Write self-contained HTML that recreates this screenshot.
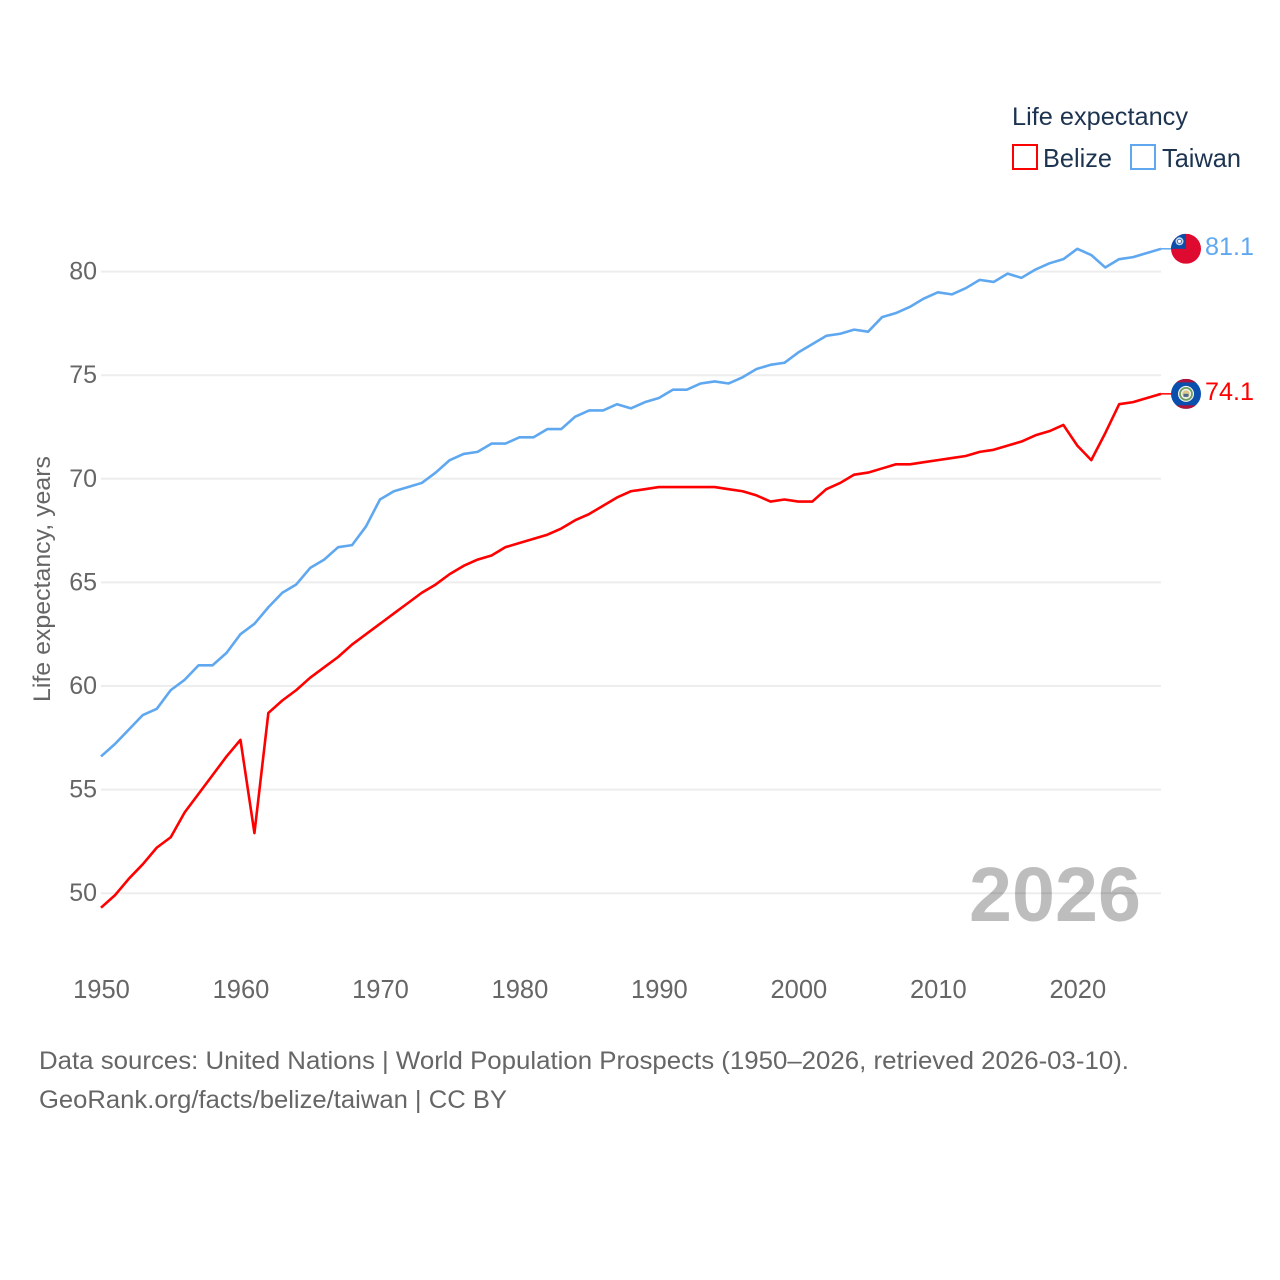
<!DOCTYPE html>
<html lang="en">
<head>
<meta charset="utf-8">
<title>Life expectancy: Belize and Taiwan</title>
<style>
html,body{margin:0;padding:0;background:#fff}
svg{display:block}
text{font-family:"Liberation Sans",sans-serif}
</style>
</head>
<body>
<svg id="chart" xmlns="http://www.w3.org/2000/svg" width="1280" height="1280" viewBox="0 0 1280 1280">
  <defs>
    <clipPath id="flag-clip"><circle cx="0" cy="0" r="15"></circle></clipPath>
  </defs>
  <rect x="0" y="0" width="1280" height="1280" fill="#ffffff"></rect>

  <g>
    <text x="1012" y="125" font-size="25" fill="#1d3450" textLength="176" lengthAdjust="spacingAndGlyphs">Life expectancy</text>
    <g>
      <rect x="1013" y="145" width="24" height="24" fill="none" stroke="#ff0000" stroke-width="2"></rect>
      <text x="1043" y="167" font-size="26" fill="#1d3450" textLength="69" lengthAdjust="spacingAndGlyphs">Belize</text>
    </g>
    <g>
      <rect x="1131" y="145" width="24" height="24" fill="none" stroke="#5fa8f0" stroke-width="2"></rect>
      <text x="1162" y="167" font-size="26" fill="#1d3450" textLength="79" lengthAdjust="spacingAndGlyphs">Taiwan</text>
    </g>
  </g>

  <g id="grid"></g>
  <g id="y-ticks"></g>
  <g id="x-ticks"></g>

  <text transform="translate(50,702) rotate(-90)" x="0" y="0" font-size="24" fill="#666666" textLength="246" lengthAdjust="spacingAndGlyphs">Life expectancy, years</text>

  <text id="year-label" x="969" y="921" font-size="77" font-weight="bold" fill="#000000" fill-opacity="0.26" textLength="172" lengthAdjust="spacingAndGlyphs">2026</text>

  <g id="series"></g>

  <g id="flag-belize">
    <g clip-path="url(#flag-clip)">
      <rect x="-15" y="-15" width="30" height="30" fill="#0a4fae"></rect>
      <rect x="-15" y="-15" width="30" height="3.5" fill="#b0123a"></rect>
      <rect x="-15" y="11.5" width="30" height="3.5" fill="#b0123a"></rect>
      <circle cx="0" cy="0" r="8" fill="#f4f4ee"></circle>
      <circle cx="0" cy="0" r="6" fill="none" stroke="#6d9e62" stroke-width="1.8"></circle>
      <circle cx="0" cy="0" r="3.6" fill="#d8c88a"></circle>
      <rect x="-2.5" y="0" width="5" height="3" fill="#4a6b8a"></rect>
    </g>
  </g>
  <g id="flag-taiwan">
    <g clip-path="url(#flag-clip)">
      <rect x="-15" y="-15" width="30" height="30" fill="#de0a30"></rect>
      <rect x="-15" y="-15" width="15" height="15" fill="#0b4ea8"></rect>
      <circle cx="-6.5" cy="-7.5" r="4" fill="#c9d8ee"></circle>
      <circle cx="-6.5" cy="-7.5" r="2.6" fill="#3f74bd"></circle>
      <circle cx="-6.5" cy="-7.5" r="1.6" fill="#ffffff"></circle>
    </g>
  </g>
  <text id="value-belize" font-size="25" fill="#ff0000" textLength="49" lengthAdjust="spacingAndGlyphs"></text>
  <text id="value-taiwan" font-size="25" fill="#5fa8f0" textLength="49" lengthAdjust="spacingAndGlyphs"></text>

  <g>
    <text x="39" y="1069" font-size="25" fill="#666666" textLength="1090" lengthAdjust="spacingAndGlyphs">Data sources: United Nations | World Population Prospects (1950–2026, retrieved 2026-03-10).</text>
    <text x="39" y="1108" font-size="25" fill="#666666" textLength="468" lengthAdjust="spacingAndGlyphs">GeoRank.org/facts/belize/taiwan | CC BY</text>
  </g>
</svg>
<script>
const startYear = 1950;
const yTickValues = [50, 55, 60, 65, 70, 75, 80];
const xTickValues = [1950, 1960, 1970, 1980, 1990, 2000, 2010, 2020];
const belizeValues = [
  49.3, 49.9, 50.7, 51.4, 52.2, 52.7, 53.9, 54.8, 55.7, 56.6,
  57.4, 52.9, 58.7, 59.3, 59.8, 60.4, 60.9, 61.4, 62.0, 62.5,
  63.0, 63.5, 64.0, 64.5, 64.9, 65.4, 65.8, 66.1, 66.3, 66.7,
  66.9, 67.1, 67.3, 67.6, 68.0, 68.3, 68.7, 69.1, 69.4, 69.5,
  69.6, 69.6, 69.6, 69.6, 69.6, 69.5, 69.4, 69.2, 68.9, 69.0,
  68.9, 68.9, 69.5, 69.8, 70.2, 70.3, 70.5, 70.7, 70.7, 70.8,
  70.9, 71.0, 71.1, 71.3, 71.4, 71.6, 71.8, 72.1, 72.3, 72.6,
  71.6, 70.9, 72.2, 73.6, 73.7, 73.9, 74.1
];
const taiwanValues = [
  56.6, 57.2, 57.9, 58.6, 58.9, 59.8, 60.3, 61.0, 61.0, 61.6,
  62.5, 63.0, 63.8, 64.5, 64.9, 65.7, 66.1, 66.7, 66.8, 67.7,
  69.0, 69.4, 69.6, 69.8, 70.3, 70.9, 71.2, 71.3, 71.7, 71.7,
  72.0, 72.0, 72.4, 72.4, 73.0, 73.3, 73.3, 73.6, 73.4, 73.7,
  73.9, 74.3, 74.3, 74.6, 74.7, 74.6, 74.9, 75.3, 75.5, 75.6,
  76.1, 76.5, 76.9, 77.0, 77.2, 77.1, 77.8, 78.0, 78.3, 78.7,
  79.0, 78.9, 79.2, 79.6, 79.5, 79.9, 79.7, 80.1, 80.4, 80.6,
  81.1, 80.8, 80.2, 80.6, 80.7, 80.9, 81.1
];

const SVG_NS = 'http://www.w3.org/2000/svg';
const plotLeft = 101;
const plotRight = 1161;
const endYear = startYear + belizeValues.length - 1;

function xScale(year) {
  return plotLeft + (year - startYear) * (plotRight - plotLeft) / (endYear - startYear);
}
function yScale(value) {
  return 893.2 - (value - 50) * 20.72;
}
function make(tag, attrs, parent) {
  const el = document.createElementNS(SVG_NS, tag);
  Object.keys(attrs).forEach(function (k) { el.setAttribute(k, attrs[k]); });
  parent.appendChild(el);
  return el;
}

const gridGroup = document.getElementById('grid');
const yTickGroup = document.getElementById('y-ticks');
yTickValues.forEach(function (v) {
  const line = make('line', {x1: plotLeft, x2: plotRight, y1: yScale(v), y2: yScale(v), stroke: '#ededed', 'stroke-width': 2}, gridGroup);
  
  
  const label = make('text', {x: 97, y: yScale(v) + 8, 'text-anchor': 'end', 'font-size': 25, fill: '#666666'}, yTickGroup);
  
  
  label.textContent = v;
});

const xTickGroup = document.getElementById('x-ticks');
xTickValues.forEach(function (yr) {
  const label = make('text', {x: xScale(yr) + 0.5, y: 998, 'text-anchor': 'middle', 'font-size': 25.5, fill: '#666666'}, xTickGroup);
  
  
  label.textContent = yr;
});

const seriesGroup = document.getElementById('series');
function drawSeries(values, color, name, flagId, valueId) {
  const pts = values.map(function (v, i) {
    return xScale(startYear + i).toFixed(2) + ',' + yScale(v).toFixed(2);
  }).join(' ');
  const line = make('polyline', {points: pts, fill: 'none', stroke: color, 'stroke-width': 2.6, 'stroke-linejoin': 'round'}, seriesGroup);
  
  
  const last = values[values.length - 1];
  const ly = yScale(last);
  const conn = make('line', {x1: plotRight, x2: plotRight + 11, y1: ly, y2: ly, stroke: color, 'stroke-width': 1.5}, seriesGroup);
  
  
  document.getElementById(flagId).setAttribute('transform', 'translate(' + (plotRight + 25) + ',' + ly + ')');
  const valueText = document.getElementById(valueId);
  valueText.setAttribute('x', plotRight + 44);
  valueText.setAttribute('y', ly + 6);
  valueText.textContent = last.toFixed(1);
}
drawSeries(belizeValues, '#ff0000', 'belize', 'flag-belize', 'value-belize');
drawSeries(taiwanValues, '#5fa8f0', 'taiwan', 'flag-taiwan', 'value-taiwan');
</script>
</body>
</html>
